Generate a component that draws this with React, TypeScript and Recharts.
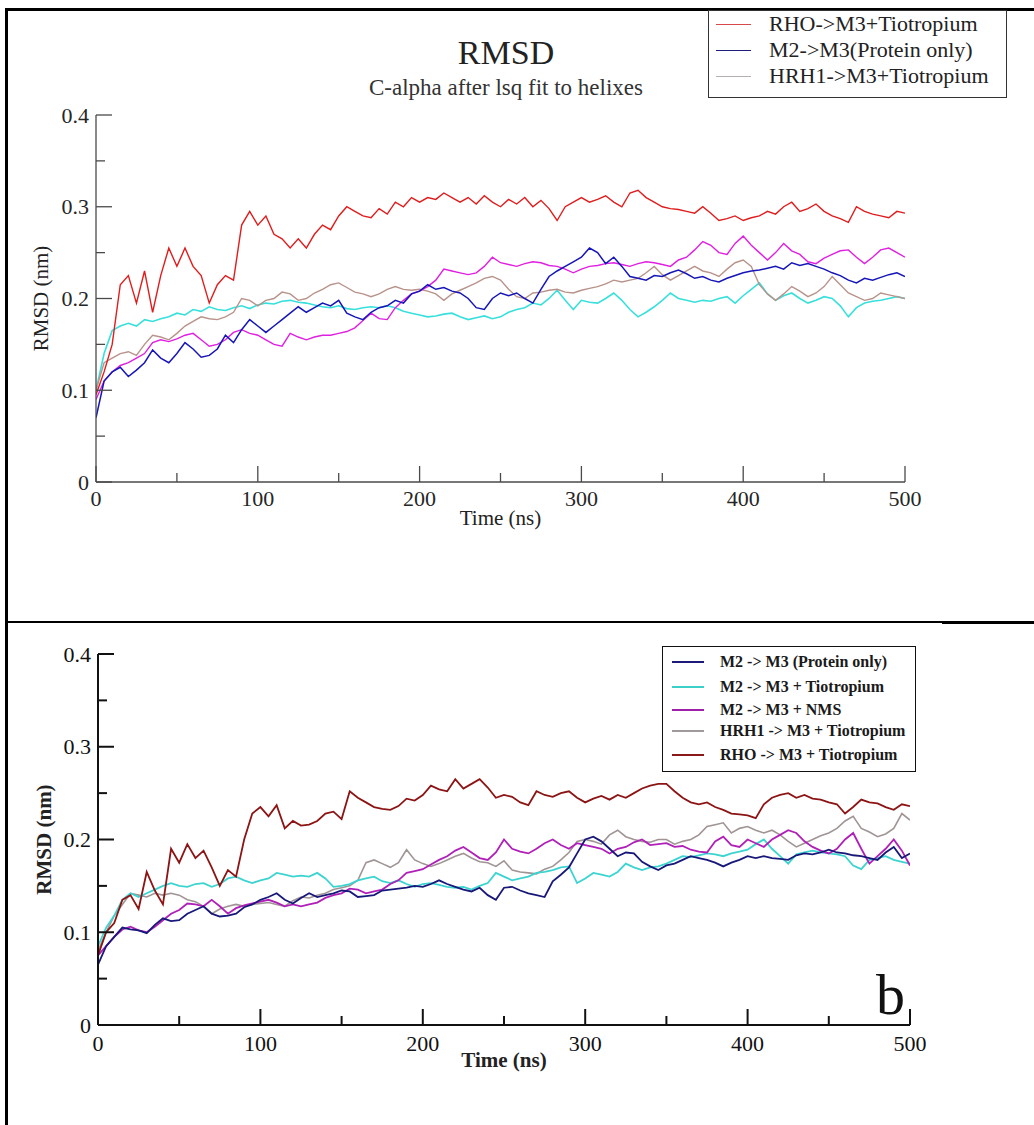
import { LineChart, Line, XAxis, YAxis, Legend, Label } from "recharts";

// time axis, ns
const time = [
  0, 5, 10, 15, 20, 25, 30, 35, 40, 45,
  50, 55, 60, 65, 70, 75, 80, 85, 90, 95,
  100, 105, 110, 115, 120, 125, 130, 135, 140, 145,
  150, 155, 160, 165, 170, 175, 180, 185, 190, 195,
  200, 205, 210, 215, 220, 225, 230, 235, 240, 245,
  250, 255, 260, 265, 270, 275, 280, 285, 290, 295,
  300, 305, 310, 315, 320, 325, 330, 335, 340, 345,
  350, 355, 360, 365, 370, 375, 380, 385, 390, 395,
  400, 405, 410, 415, 420, 425, 430, 435, 440, 445,
  450, 455, 460, 465, 470, 475, 480, 485, 490, 495,
  500,
];

const xTicks = [0, 50, 100, 150, 200, 250, 300, 350, 400, 450, 500];
const yTicks = [0, 0.05, 0.1, 0.15, 0.2, 0.25, 0.3, 0.35, 0.4];

// ---- panel a (top) ----
const topRho = [
  0.095, 0.12, 0.15, 0.215, 0.225, 0.195, 0.23, 0.185, 0.225, 0.255,
  0.235, 0.255, 0.235, 0.225, 0.195, 0.215, 0.225, 0.22, 0.28, 0.295,
  0.28, 0.29, 0.27, 0.265, 0.255, 0.265, 0.255, 0.27, 0.28, 0.275,
  0.29, 0.3, 0.295, 0.29, 0.288, 0.298, 0.292, 0.305, 0.3, 0.31,
  0.305, 0.31, 0.308, 0.315, 0.31, 0.305, 0.31, 0.303, 0.312, 0.305,
  0.3, 0.308, 0.303, 0.31, 0.3, 0.307, 0.298, 0.285, 0.3, 0.305,
  0.31, 0.305, 0.308, 0.312, 0.305, 0.3, 0.315, 0.318, 0.31, 0.305,
  0.3, 0.298, 0.297, 0.295, 0.293, 0.3, 0.293, 0.285, 0.287, 0.29,
  0.285, 0.288, 0.29, 0.295, 0.292, 0.3, 0.305, 0.295, 0.298, 0.303,
  0.295, 0.29, 0.287, 0.283, 0.3, 0.295, 0.292, 0.29, 0.288, 0.295,
  0.293,
];
const topM2 = [
  0.07, 0.11, 0.12, 0.125, 0.115, 0.122, 0.13, 0.144, 0.135, 0.13,
  0.14, 0.152, 0.145, 0.136, 0.138, 0.145, 0.16, 0.152, 0.166, 0.177,
  0.17, 0.163, 0.17, 0.177, 0.184, 0.191, 0.185, 0.19, 0.195, 0.192,
  0.198, 0.184, 0.18, 0.177, 0.185, 0.19, 0.192, 0.198, 0.195, 0.205,
  0.208, 0.215, 0.21, 0.212, 0.208, 0.206, 0.2, 0.19, 0.188, 0.2,
  0.206, 0.203, 0.206, 0.2, 0.195, 0.21, 0.224, 0.23, 0.235, 0.24,
  0.245, 0.255, 0.25, 0.238, 0.245, 0.235, 0.224, 0.222, 0.22, 0.225,
  0.224, 0.228, 0.231, 0.227, 0.222, 0.224, 0.22, 0.218, 0.222, 0.225,
  0.228, 0.23, 0.231, 0.233, 0.235, 0.232, 0.239, 0.236, 0.238, 0.235,
  0.232, 0.228, 0.225, 0.22, 0.217, 0.222, 0.22, 0.223, 0.226, 0.228,
  0.224,
];
const topM2Tio = [
  0.1, 0.14, 0.165, 0.17, 0.173, 0.17, 0.177, 0.175, 0.178, 0.18,
  0.184, 0.182, 0.188, 0.186, 0.191, 0.188, 0.187, 0.19, 0.192, 0.189,
  0.193, 0.195, 0.194, 0.197, 0.198, 0.196, 0.195, 0.193, 0.191, 0.19,
  0.192, 0.189, 0.188, 0.19, 0.191, 0.19, 0.192, 0.19, 0.186, 0.184,
  0.182, 0.18, 0.181, 0.183, 0.184, 0.18, 0.177, 0.179, 0.181, 0.178,
  0.18, 0.185, 0.188, 0.19, 0.195, 0.193, 0.2, 0.209, 0.198, 0.188,
  0.198, 0.196, 0.195, 0.2, 0.206, 0.198, 0.188, 0.18, 0.185, 0.191,
  0.198, 0.206, 0.2, 0.198, 0.196, 0.198, 0.197, 0.2, 0.202, 0.195,
  0.203, 0.21, 0.217, 0.205, 0.198, 0.203, 0.206, 0.2, 0.195, 0.198,
  0.202, 0.2, 0.192, 0.18, 0.19, 0.195, 0.197, 0.198, 0.2, 0.202,
  0.2,
];
const topNms = [
  0.09, 0.11, 0.12, 0.127, 0.13, 0.135, 0.14, 0.152, 0.155, 0.153,
  0.156, 0.16, 0.162, 0.155, 0.148, 0.15, 0.155, 0.163, 0.166, 0.162,
  0.16, 0.155, 0.15, 0.148, 0.162, 0.158, 0.155, 0.158, 0.16, 0.16,
  0.162, 0.164, 0.168, 0.176, 0.184, 0.178, 0.177, 0.19, 0.198, 0.205,
  0.208, 0.213, 0.22, 0.232, 0.23, 0.228, 0.226, 0.228, 0.235, 0.245,
  0.239, 0.237, 0.235, 0.238, 0.24, 0.239, 0.236, 0.235, 0.232, 0.228,
  0.232, 0.235, 0.236, 0.238, 0.239, 0.237, 0.235, 0.238, 0.24, 0.239,
  0.237, 0.235, 0.242, 0.245, 0.253, 0.262, 0.258, 0.25, 0.248, 0.26,
  0.268, 0.258, 0.25, 0.242, 0.25, 0.26, 0.252, 0.248, 0.24, 0.238,
  0.244, 0.248, 0.252, 0.253, 0.245, 0.238, 0.245, 0.253, 0.255, 0.25,
  0.245,
];
const topHrh1 = [
  0.1, 0.13, 0.135, 0.14, 0.142, 0.138, 0.15, 0.16, 0.158, 0.155,
  0.162, 0.17, 0.175, 0.18, 0.178, 0.177, 0.18, 0.185, 0.2, 0.198,
  0.192, 0.198, 0.2, 0.207, 0.205, 0.198, 0.2, 0.206, 0.21, 0.215,
  0.217, 0.212, 0.207, 0.205, 0.202, 0.205, 0.21, 0.213, 0.21, 0.209,
  0.21, 0.208, 0.205, 0.198, 0.205, 0.209, 0.213, 0.217, 0.222, 0.224,
  0.22, 0.21, 0.202, 0.2, 0.206, 0.207, 0.209, 0.21, 0.207, 0.206,
  0.209, 0.211, 0.213, 0.216, 0.22, 0.218, 0.22, 0.222, 0.228, 0.235,
  0.226, 0.22, 0.225, 0.23, 0.235, 0.23, 0.228, 0.224, 0.232, 0.239,
  0.242, 0.235, 0.215, 0.205, 0.198, 0.205, 0.213, 0.208, 0.202, 0.206,
  0.213, 0.224, 0.215, 0.206, 0.202, 0.198, 0.2, 0.206, 0.204, 0.202,
  0.2,
];

// ---- panel b (bottom) ----
const botRho = [
  0.075, 0.1, 0.11, 0.135, 0.14, 0.125, 0.165, 0.145, 0.13, 0.19,
  0.175, 0.195, 0.18, 0.188, 0.17, 0.15, 0.167, 0.16, 0.2, 0.228,
  0.235, 0.225, 0.237, 0.212, 0.22, 0.215, 0.216, 0.22, 0.228, 0.23,
  0.222, 0.252, 0.245, 0.24, 0.235, 0.233, 0.232, 0.236, 0.244, 0.242,
  0.248, 0.258, 0.254, 0.252, 0.265, 0.255, 0.26, 0.265, 0.256, 0.245,
  0.248, 0.246, 0.24, 0.237, 0.252, 0.248, 0.246, 0.25, 0.252, 0.245,
  0.24, 0.244, 0.247, 0.243, 0.248, 0.245, 0.25, 0.255, 0.258, 0.26,
  0.26, 0.252, 0.245, 0.24, 0.238, 0.24, 0.235, 0.232, 0.228, 0.227,
  0.226, 0.223, 0.238, 0.245, 0.248, 0.25, 0.245, 0.248, 0.244, 0.243,
  0.24, 0.238, 0.228, 0.235, 0.243, 0.24, 0.239, 0.235, 0.232, 0.238,
  0.236,
];
const botM2 = [
  0.065, 0.085, 0.095, 0.105, 0.103, 0.102, 0.099, 0.108, 0.115, 0.112,
  0.113, 0.12, 0.124, 0.128, 0.12, 0.117, 0.118, 0.12, 0.127, 0.13,
  0.135, 0.138, 0.142, 0.135, 0.131, 0.137, 0.142, 0.138, 0.14, 0.142,
  0.145, 0.144, 0.138, 0.139, 0.14, 0.145, 0.146, 0.147, 0.148, 0.15,
  0.149, 0.152, 0.156, 0.152, 0.149, 0.146, 0.144, 0.148, 0.14, 0.135,
  0.148, 0.149, 0.145, 0.142, 0.14, 0.138, 0.155, 0.162, 0.17, 0.185,
  0.2, 0.203, 0.198, 0.19, 0.182, 0.186, 0.185, 0.176, 0.171, 0.167,
  0.172, 0.174, 0.178, 0.182, 0.18, 0.178, 0.175, 0.171, 0.175, 0.178,
  0.182, 0.18, 0.182, 0.18, 0.179, 0.178, 0.183, 0.185, 0.184, 0.186,
  0.189, 0.186, 0.185, 0.183, 0.182, 0.18, 0.178, 0.186, 0.192, 0.18,
  0.185,
];
const botM2Tio = [
  0.085, 0.105, 0.118, 0.135, 0.142, 0.138, 0.142, 0.146, 0.15, 0.153,
  0.15, 0.149, 0.152, 0.153, 0.149, 0.152, 0.158, 0.16, 0.156, 0.153,
  0.156, 0.158, 0.164, 0.162, 0.16, 0.161, 0.16, 0.164, 0.158, 0.149,
  0.15, 0.152, 0.156, 0.158, 0.16, 0.155, 0.153, 0.156, 0.152, 0.149,
  0.152, 0.153, 0.151, 0.149, 0.148, 0.149, 0.146, 0.15, 0.153, 0.164,
  0.16, 0.156, 0.158, 0.16, 0.164, 0.165, 0.167, 0.17, 0.171, 0.153,
  0.158, 0.164, 0.162, 0.16, 0.165, 0.174, 0.17, 0.167, 0.17, 0.171,
  0.174, 0.178, 0.182, 0.181, 0.183, 0.185, 0.184, 0.182, 0.185, 0.187,
  0.189, 0.195, 0.2, 0.19, 0.182, 0.174, 0.184, 0.186, 0.188, 0.186,
  0.185, 0.184, 0.182, 0.172, 0.168, 0.178, 0.18, 0.182, 0.178, 0.176,
  0.174,
];
const botNms = [
  0.075, 0.085, 0.095, 0.103, 0.106, 0.102, 0.1, 0.106, 0.113, 0.12,
  0.124, 0.131, 0.13, 0.128, 0.135, 0.128, 0.12, 0.126, 0.129, 0.131,
  0.133, 0.135, 0.132, 0.128, 0.13, 0.128, 0.13, 0.132, 0.137, 0.14,
  0.142, 0.147, 0.146, 0.142, 0.144, 0.146, 0.152, 0.156, 0.164, 0.166,
  0.168, 0.173, 0.178, 0.182, 0.188, 0.192, 0.186, 0.18, 0.178, 0.186,
  0.2, 0.19, 0.187, 0.185, 0.19, 0.196, 0.2, 0.194, 0.19, 0.196,
  0.194, 0.192, 0.19, 0.185, 0.19, 0.192, 0.197, 0.2, 0.194, 0.195,
  0.196, 0.192, 0.193, 0.189, 0.187, 0.186, 0.198, 0.203, 0.194, 0.192,
  0.2, 0.196, 0.192, 0.2, 0.205, 0.21, 0.207, 0.198, 0.192, 0.188,
  0.185, 0.19, 0.2, 0.207, 0.19, 0.174, 0.182, 0.19, 0.2, 0.188,
  0.172,
];
const botHrh1 = [
  0.08, 0.1, 0.118, 0.13, 0.142, 0.14, 0.138, 0.142, 0.14, 0.142,
  0.14, 0.135, 0.133, 0.128, 0.12, 0.125, 0.128, 0.13, 0.128, 0.13,
  0.131, 0.132, 0.13, 0.128, 0.134, 0.138, 0.137, 0.14, 0.142, 0.146,
  0.148, 0.15, 0.156, 0.175, 0.178, 0.174, 0.17, 0.175, 0.189, 0.178,
  0.174, 0.171, 0.174, 0.178, 0.182, 0.185, 0.18, 0.176, 0.175, 0.171,
  0.177, 0.167, 0.165, 0.164, 0.163, 0.168, 0.171, 0.178, 0.186, 0.198,
  0.2, 0.198, 0.195, 0.205, 0.21, 0.203, 0.2, 0.198, 0.197, 0.2,
  0.2, 0.195, 0.198, 0.2, 0.205, 0.214, 0.216, 0.218, 0.207, 0.212,
  0.214, 0.21, 0.207, 0.21, 0.205, 0.198, 0.192, 0.196, 0.2, 0.204,
  0.207, 0.212, 0.22, 0.225, 0.212, 0.208, 0.203, 0.206, 0.212, 0.228,
  0.221,
];

const topLegend = [
  { name: "RHO->M3+Tiotropium", color: "#d84a4a" },
  { name: "M2->M3(Protein only)", color: "#1c1c7a" },
  { name: "HRH1->M3+Tiotropium", color: "#b8b0b0" },
];
const botLegend = [
  { name: "M2 -> M3 (Protein only)", color: "#1c1c78" },
  { name: "M2 -> M3 + Tiotropium", color: "#3cd0c8" },
  { name: "M2 -> M3 + NMS", color: "#a020a8" },
  { name: "HRH1 -> M3 + Tiotropium", color: "#a09a9a" },
  { name: "RHO -> M3 + Tiotropium", color: "#8a1a1a" },
];

const SERIF = '"Liberation Serif", "Times New Roman", "DejaVu Serif", serif';

const topRows = time.map((t, i) => ({
  t,
  rho: topRho[i],
  m2: topM2[i],
  tio: topM2Tio[i],
  nms: topNms[i],
  hrh1: topHrh1[i],
}));
const botRows = time.map((t, i) => ({
  t,
  rho: botRho[i],
  m2: botM2[i],
  tio: botM2Tio[i],
  nms: botNms[i],
  hrh1: botHrh1[i],
}));

interface Look {
  stroke: string;
  width: number;
  font: number;
  weight: number;
  major: number;
  minor: number;
  ink: string;
}

const topLook: Look = { stroke: "#4a4a4a", width: 1.3, font: 22, weight: 400, major: 16, minor: 9, ink: "#262626" };
const botLook: Look = { stroke: "#111", width: 2, font: 22, weight: 400, major: 16, minor: 9, ink: "#111" };

const isMajorX = (v: number) => v % 100 === 0;
const isMajorY = (v: number) => Math.round(v * 100) % 10 === 0;

const xTick = (look: Look, side: "bottom" | "top", gap: number) => (props: any) => {
  const { x, y, payload } = props;
  const v = payload.value as number;
  const len = isMajorX(v) ? look.major : look.minor;
  const dir = side === "bottom" ? -1 : 1;
  return (
    <g>
      <line x1={x} y1={y} x2={x} y2={y + dir * len} stroke={look.stroke} strokeWidth={look.width} />
      {side === "bottom" && isMajorX(v) && (
        <text x={x} y={y + gap} textAnchor="middle" dominantBaseline="central"
          fontFamily={SERIF} fontSize={look.font} fontWeight={look.weight} fill={look.ink}>
          {v}
        </text>
      )}
    </g>
  );
};

const yTick = (look: Look, side: "left" | "right") => (props: any) => {
  const { x, y, payload } = props;
  const v = payload.value as number;
  const len = isMajorY(v) ? look.major : look.minor;
  const dir = side === "left" ? 1 : -1;
  return (
    <g>
      <line x1={x} y1={y} x2={x + dir * len} y2={y} stroke={look.stroke} strokeWidth={look.width} />
      {side === "left" && isMajorY(v) && (
        <text x={x - 7} y={y} textAnchor="end" dominantBaseline="central"
          fontFamily={SERIF} fontSize={look.font} fontWeight={look.weight} fill={look.ink}>
          {v === 0 ? "0" : v.toFixed(1)}
        </text>
      )}
    </g>
  );
};

const yTitle = (cx: number, weight: number) => (p: any) => {
  const vb = p.viewBox || {};
  const cy = (vb.y ?? 0) + (vb.height ?? 0) / 2;
  return (
    <text x={cx} y={cy} transform={`rotate(-90 ${cx} ${cy})`} textAnchor="middle"
      dominantBaseline="central" fontFamily={SERIF} fontSize={21} fontWeight={weight} fill="#222">
      RMSD (nm)
    </text>
  );
};

function TopLegendBox() {
  return (
    <div style={{ position: "relative", width: 297, height: 86, border: "1.2px solid #333", background: "#fff", fontFamily: SERIF, fontSize: 22, color: "#222" }}>
      {topLegend.map((e, i) => (
        <div key={e.name} style={{ position: "absolute", left: 7, top: i * 26, height: 26, display: "flex", alignItems: "center", whiteSpace: "nowrap" }}>
          <span style={{ display: "inline-block", width: 35, borderTop: `1.5px solid ${e.color}`, marginRight: 18 }} />
          <span>{e.name}</span>
        </div>
      ))}
    </div>
  );
}

function BotLegendBox() {
  return (
    <div style={{ position: "relative", width: 252, height: 124, border: "1.5px solid #111", background: "#fff", fontFamily: SERIF, fontSize: 16, fontWeight: 700, color: "#1a1a1a" }}>
      {botLegend.map((e, i) => (
        <div key={e.name} style={{ position: "absolute", left: 9, top: [3, 28, 51, 72, 96][i], height: 24, display: "flex", alignItems: "center", whiteSpace: "nowrap" }}>
          <span style={{ display: "inline-block", width: 32, borderTop: `2px solid ${e.color}`, marginRight: 16 }} />
          <span>{e.name}</span>
        </div>
      ))}
    </div>
  );
}

function Frame() {
  return (
    <>
      <div style={{ position: "absolute", left: 5, top: 8, width: 1029, height: 3, background: "#000" }} />
      <div style={{ position: "absolute", left: 5, top: 8, width: 3, height: 1117, background: "#000" }} />
      <div style={{ position: "absolute", left: 5, top: 621, width: 937, height: 1.5, background: "#000" }} />
      <div style={{ position: "absolute", left: 942, top: 621, width: 92, height: 2.5, background: "#000" }} />
    </>
  );
}

export default function App() {
  return (
    <div style={{ position: "absolute", left: 0, top: 0, width: 1034, height: 1125, background: "#fff", overflow: "hidden" }}>
      <Frame />

      {/* panel a */}
      <div style={{ position: "absolute", left: 0, top: 0 }}>
        <LineChart width={1034} height={620} data={topRows} margin={{ top: 115, right: 129, bottom: 108, left: 36 }}>
          <XAxis dataKey="t" type="number" domain={[0, 500]} ticks={xTicks} interval={0} allowDataOverflow
            height={30} tickSize={0} tickMargin={0} tickLine={false}
            axisLine={{ stroke: topLook.stroke, strokeWidth: topLook.width }} tick={xTick(topLook, "bottom", 16)}>
            <Label value="Time (ns)" position="bottom" offset={-2} fontFamily={SERIF} fontSize={21} fill="#222" />
          </XAxis>
          <XAxis xAxisId="top" orientation="top" dataKey="t" type="number" domain={[0, 500]} ticks={xTicks} interval={0}
            allowDataOverflow height={0} tickSize={0} tickMargin={0} tickLine={false}
            axisLine={{ stroke: topLook.stroke, strokeWidth: topLook.width }} tick={xTick(topLook, "top", 0)} />
          <YAxis type="number" domain={[0, 0.4]} ticks={yTicks} interval={0} allowDataOverflow width={60}
            tickSize={0} tickMargin={0} tickLine={false}
            axisLine={{ stroke: topLook.stroke, strokeWidth: topLook.width }} tick={yTick(topLook, "left")}>
            <Label content={yTitle(41, 400)} />
          </YAxis>
          <YAxis yAxisId="right" orientation="right" type="number" domain={[0, 0.4]} ticks={yTicks} interval={0}
            allowDataOverflow width={0} tickSize={0} tickMargin={0} tickLine={false}
            axisLine={{ stroke: topLook.stroke, strokeWidth: topLook.width }} tick={yTick(topLook, "right")} />
          <Line dataKey="tio" stroke="#38e0dc" strokeWidth={1.6} dot={false} isAnimationActive={false} />
          <Line dataKey="hrh1" stroke="#b8938a" strokeWidth={1.4} dot={false} isAnimationActive={false} />
          <Line dataKey="nms" stroke="#e020e0" strokeWidth={1.4} dot={false} isAnimationActive={false} />
          <Line dataKey="m2" stroke="#1515b8" strokeWidth={1.5} dot={false} isAnimationActive={false} />
          <Line dataKey="rho" stroke="#e01c1c" strokeWidth={1.4} dot={false} isAnimationActive={false} />
          <Legend layout="horizontal" verticalAlign="middle" content={() => <TopLegendBox />}
            wrapperStyle={{ position: "absolute", left: 708, top: 10, width: 300, height: 90 }} />
        </LineChart>
        <div style={{ position: "absolute", left: 306, width: 400, top: 33, textAlign: "center", fontFamily: SERIF, fontSize: 34, color: "#222", lineHeight: "40px" }}>
          RMSD
        </div>
        <div style={{ position: "absolute", left: 256, width: 500, top: 74, textAlign: "center", fontFamily: SERIF, fontSize: 23, color: "#333", lineHeight: "28px" }}>
          C-alpha after lsq fit to helixes
        </div>
      </div>

      {/* panel b */}
      <div style={{ position: "absolute", left: 0, top: 622 }}>
        <LineChart width={1034} height={503} data={botRows} margin={{ top: 32, right: 124, bottom: 70, left: 38 }}>
          <XAxis dataKey="t" type="number" domain={[0, 500]} ticks={xTicks} interval={0} allowDataOverflow
            height={30} tickSize={0} tickMargin={0} tickLine={false}
            axisLine={{ stroke: botLook.stroke, strokeWidth: botLook.width }} tick={xTick(botLook, "bottom", 18)}>
            <Label value="Time (ns)" position="bottom" offset={-3} fontFamily={SERIF} fontSize={21} fontWeight={700} fill="#222" />
          </XAxis>
          <XAxis xAxisId="top" orientation="top" dataKey="t" type="number" domain={[0, 500]} ticks={xTicks} interval={0}
            allowDataOverflow height={0} tickSize={0} tickMargin={0} tickLine={false}
            axisLine={{ stroke: botLook.stroke, strokeWidth: botLook.width }} tick={xTick(botLook, "top", 0)} />
          <YAxis type="number" domain={[0, 0.4]} ticks={yTicks} interval={0} allowDataOverflow width={60}
            tickSize={0} tickMargin={0} tickLine={false}
            axisLine={{ stroke: botLook.stroke, strokeWidth: botLook.width }} tick={yTick(botLook, "left")}>
            <Label content={yTitle(44, 700)} />
          </YAxis>
          <YAxis yAxisId="right" orientation="right" type="number" domain={[0, 0.4]} ticks={yTicks} interval={0}
            allowDataOverflow width={0} tickSize={0} tickMargin={0} tickLine={false}
            axisLine={{ stroke: botLook.stroke, strokeWidth: botLook.width }} tick={yTick(botLook, "right")} />
          <Line dataKey="hrh1" stroke="#a09494" strokeWidth={1.6} dot={false} isAnimationActive={false} />
          <Line dataKey="tio" stroke="#3cd4d0" strokeWidth={1.8} dot={false} isAnimationActive={false} />
          <Line dataKey="nms" stroke="#b020b8" strokeWidth={1.8} dot={false} isAnimationActive={false} />
          <Line dataKey="m2" stroke="#18187a" strokeWidth={1.8} dot={false} isAnimationActive={false} />
          <Line dataKey="rho" stroke="#8c1414" strokeWidth={1.8} dot={false} isAnimationActive={false} />
          <Legend layout="horizontal" verticalAlign="middle" content={() => <BotLegendBox />}
            wrapperStyle={{ position: "absolute", left: 662, top: 24, width: 256, height: 128 }} />
        </LineChart>
        <div style={{ position: "absolute", left: 876, top: 341, fontFamily: SERIF, fontSize: 58, color: "#111", lineHeight: "64px" }}>
          b
        </div>
      </div>
    </div>
  );
}
